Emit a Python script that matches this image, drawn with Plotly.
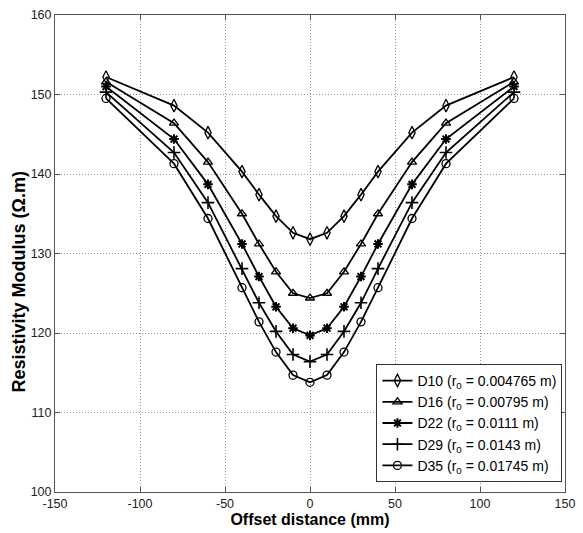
import plotly.graph_objects as go

offsets = [-120, -80, -60, -40, -30, -20, -10, 0, 10, 20, 30, 40, 60, 80, 120]

half_d10 = [152.2, 148.6, 145.2, 140.3, 137.4, 134.7, 132.6, 131.8]
half_d16 = [151.6, 146.4, 141.5, 135.0, 131.2, 127.7, 125.0, 124.4]
half_d22 = [151.0, 144.4, 138.7, 131.2, 127.1, 123.3, 120.6, 119.7]
half_d29 = [150.3, 142.7, 136.4, 128.1, 123.8, 120.2, 117.3, 116.4]
half_d35 = [149.5, 141.3, 134.4, 125.7, 121.4, 117.6, 114.7, 113.8]

# measured symmetric profiles (left half mirrored about 0)
d10 = half_d10 + half_d10[-2::-1]
d16 = half_d16 + half_d16[-2::-1]
d22 = half_d22 + half_d22[-2::-1]
d29 = half_d29 + half_d29[-2::-1]
d35 = half_d35 + half_d35[-2::-1]

names = [
    "D10 (r<sub>0</sub> = 0.004765 m)",
    "D16 (r<sub>0</sub> = 0.00795 m)",
    "D22 (r<sub>0</sub> = 0.0111 m)",
    "D29 (r<sub>0</sub> = 0.0143 m)",
    "D35 (r<sub>0</sub> = 0.01745 m)",
]
series = [d10, d16, d22, d29, d35]
symbols = ["diamond-tall-open", "triangle-up-open", "asterisk-open", "cross-thin-open", "circle-open"]
msizes = [9, 8, 8, 9, 8]
mlw = [1.3, 1.3, 2.0, 1.6, 1.3]

FONT = "Arial, Liberation Sans, sans-serif"

fig = go.Figure()
for n, s, sym, ms, lw in zip(names, series, symbols, msizes, mlw):
    fig.add_trace(go.Scatter(
        x=offsets, y=s, name=n, mode="lines+markers",
        line=dict(color="black", width=1.8),
        marker=dict(symbol=sym, size=ms, color="black",
                    line=dict(color="black", width=lw)),
    ))

grid_common = dict(
    showgrid=True, gridcolor="#999999", griddash="1px,2px", gridwidth=1,
    zeroline=False, showline=True, mirror="ticks", linecolor="#555555", linewidth=1,
    ticks="inside", ticklen=5, tickcolor="#555555", automargin=False,
    tickfont=dict(family=FONT, size=12.5, color="#222222"),
)

fig.update_layout(
    width=583, height=533,
    margin=dict(l=55, r=18, t=15, b=41),
    paper_bgcolor="white", plot_bgcolor="white",
    font=dict(family=FONT, color="black", size=12),
    showlegend=True,
    legend=dict(
        x=0.995, y=0.021, xanchor="right", yanchor="bottom",
        bgcolor="white", bordercolor="#333333", borderwidth=1,
        font=dict(family=FONT, size=14, color="black"),
        tracegroupgap=0, itemwidth=30,
    ),
    xaxis=dict(
        range=[-150, 150], tickmode="array",
        tickvals=[-150, -100, -50, 0, 50, 100, 150],
        ticktext=["-150", "-100", "-50", "0", "50", "100", "150"],
        title=dict(text="<b>Offset distance (mm)</b>", standoff=2,
                   font=dict(family=FONT, size=16, color="black")),
        **grid_common,
    ),
    yaxis=dict(
        range=[100, 160], tickmode="array",
        tickvals=[100, 110, 120, 130, 140, 150, 160],
        **grid_common,
    ),
    annotations=[dict(
        text="<b>Resistivity Modulus (Ω.m)</b>", textangle=-90,
        xref="paper", yref="paper", x=-0.07, y=0.44,
        xanchor="center", yanchor="middle", showarrow=False,
        font=dict(family=FONT, size=18, color="black"),
    )],
)

fig.write_html(
    "out.html",
    config={"displayModeBar": False},
    post_script="document.body.style.margin='0';document.body.style.overflow='hidden';",
)
